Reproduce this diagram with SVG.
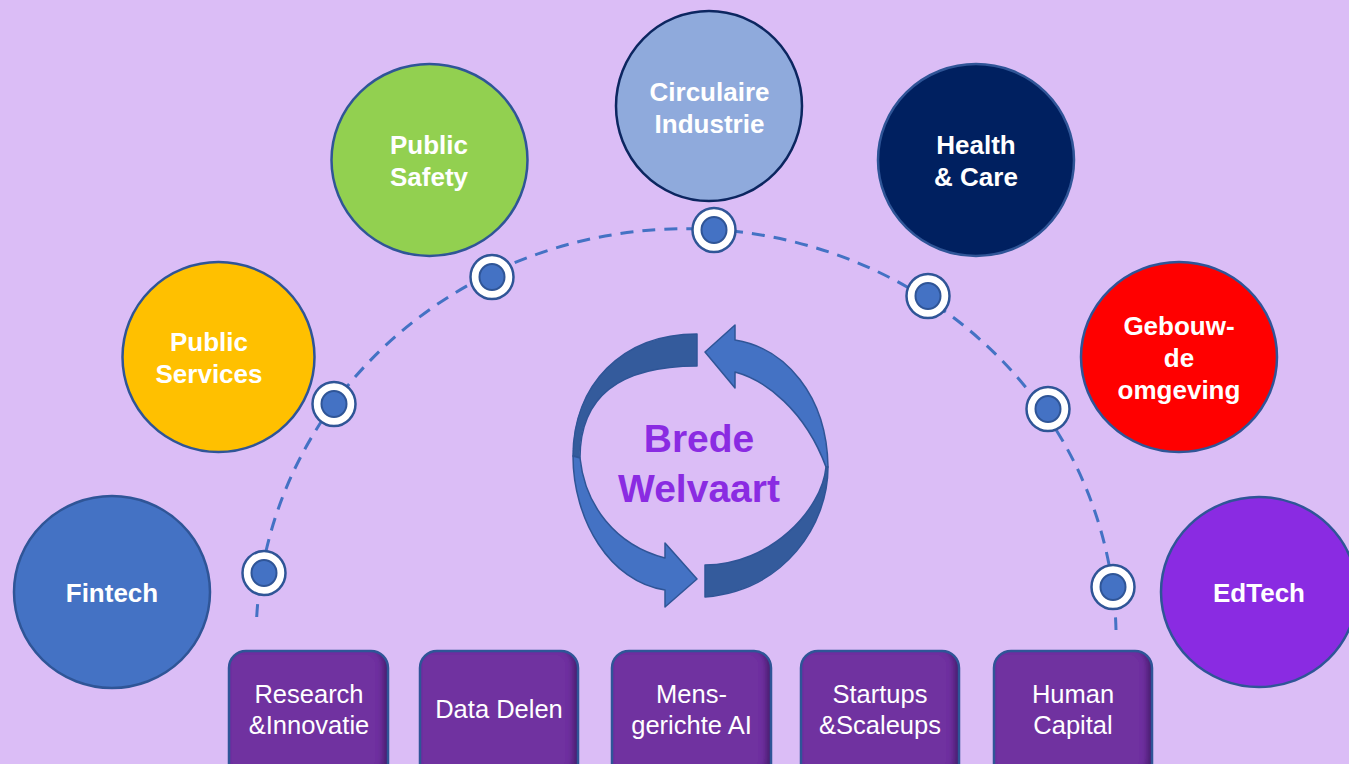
<svg xmlns="http://www.w3.org/2000/svg" width="1349" height="764" viewBox="0 0 1349 764">
<defs>
<style>
.lbl{font-family:"Liberation Sans",Arial,sans-serif;font-weight:bold;font-size:26px;fill:#ffffff;text-anchor:middle}
.box-t{font-family:"Liberation Sans",Arial,sans-serif;font-size:25.5px;fill:#ffffff;text-anchor:middle}
.center-t{font-family:"Liberation Sans",Arial,sans-serif;font-weight:bold;font-size:39px;fill:#8a2be2;text-anchor:middle}
.node{stroke:#2f5597;stroke-width:2.5}
.box-fill{fill:#7030a0}
.box-line{fill:none;stroke:#2f5597;stroke-width:2.5}
.ring{fill:#ffffff;stroke:#2f5597;stroke-width:2.5}
.dot{fill:#4472c4;stroke:#2f5597;stroke-width:2}
.arc{fill:none;stroke:#4472c4;stroke-width:3;stroke-dasharray:13 9}
.arr-l{fill:#4472c4;stroke:#2f5597;stroke-width:1.5;stroke-linejoin:round}
.arr-d{fill:#345b9c;stroke:#2f5597;stroke-width:1.5;stroke-linejoin:round}
</style>
<filter id="inner" x="-10%" y="-10%" width="120%" height="120%">
<feFlood flood-color="#2e0c52" flood-opacity="0.75" result="c"/>
<feComposite in="c" in2="SourceAlpha" operator="out" result="inv"/>
<feOffset in="inv" dx="-5" dy="-4" result="off"/>
<feGaussianBlur in="off" stdDeviation="3" result="blur"/>
<feComposite in="blur" in2="SourceAlpha" operator="in" result="shadow"/>
<feMerge><feMergeNode in="SourceGraphic"/><feMergeNode in="shadow"/></feMerge>
</filter>
</defs>
<rect x="0" y="0" width="1349" height="764" fill="#dbbdf6"/>

<g id="connectors">
<path class="arc" d="M 256.7 617 A 430 410 0 0 1 1116 630"/>
</g>

<g id="cycle">
<path class="arr-d" d="M 697 334 C 622 334 573 385 573 456 L 580 458 C 580 395 622 366 697 366 Z"/>
<path class="arr-l" d="M 573 456 C 573 520 610 582 665 590 L 665 607 L 697 579 L 665 543 L 665 558 C 615 545 585 505 580 458 Z"/>
<path class="arr-l" d="M 705 352 L 735 325 L 735 340 C 785 348 827 395 828 467 L 826 467 C 805 410 765 380 735 372 L 735 388 Z"/>
<path class="arr-d" d="M 828 467 C 828 525 785 590 705 597 L 705 565 C 770 565 822 510 826 467 Z"/>
<text class="center-t" x="699" y="452">Brede</text>
<text class="center-t" x="699" y="502">Welvaart</text>
</g>

<g id="node-fintech">
<ellipse class="node" cx="112" cy="592" rx="98" ry="96" fill="#4472c4"/>
<text class="lbl" x="112" y="602">Fintech</text>
</g>
<g id="node-public-services">
<ellipse class="node" cx="218.5" cy="357" rx="96" ry="95" fill="#ffc000"/>
<text class="lbl" x="209" y="351">Public</text>
<text class="lbl" x="209" y="383">Services</text>
</g>
<g id="node-public-safety">
<ellipse class="node" cx="429.5" cy="160" rx="98" ry="96" fill="#92d050"/>
<text class="lbl" x="429" y="154">Public</text>
<text class="lbl" x="429" y="186">Safety</text>
</g>
<g id="node-circulaire">
<ellipse cx="709" cy="106" rx="93" ry="95" fill="#8faadc" stroke="#0c2660" stroke-width="2.5"/>
<text class="lbl" x="709.5" y="101">Circulaire</text>
<text class="lbl" x="709.5" y="133">Industrie</text>
</g>
<g id="node-health">
<ellipse class="node" cx="976" cy="160" rx="98" ry="96" fill="#002060"/>
<text class="lbl" x="976" y="154">Health</text>
<text class="lbl" x="976" y="186">&amp; Care</text>
</g>
<g id="node-gebouwde">
<ellipse class="node" cx="1179" cy="357" rx="98" ry="95" fill="#ff0000"/>
<text class="lbl" x="1179" y="335">Gebouw-</text>
<text class="lbl" x="1179" y="367">de</text>
<text class="lbl" x="1179" y="399">omgeving</text>
</g>
<g id="node-edtech">
<ellipse class="node" cx="1259" cy="592" rx="98" ry="95" fill="#8a2be2"/>
<text class="lbl" x="1259" y="602">EdTech</text>
</g>

<g id="dots">
<g><ellipse class="ring" cx="264" cy="573" rx="21.5" ry="22"/><ellipse class="dot" cx="264" cy="573" rx="12.5" ry="13"/></g>
<g><ellipse class="ring" cx="334" cy="404" rx="21.5" ry="22"/><ellipse class="dot" cx="334" cy="404" rx="12.5" ry="13"/></g>
<g><ellipse class="ring" cx="492" cy="277" rx="21.5" ry="22"/><ellipse class="dot" cx="492" cy="277" rx="12.5" ry="13"/></g>
<g><ellipse class="ring" cx="714" cy="230" rx="21.5" ry="22"/><ellipse class="dot" cx="714" cy="230" rx="12.5" ry="13"/></g>
<g><ellipse class="ring" cx="928" cy="296" rx="21.5" ry="22"/><ellipse class="dot" cx="928" cy="296" rx="12.5" ry="13"/></g>
<g><ellipse class="ring" cx="1048" cy="409" rx="21.5" ry="22"/><ellipse class="dot" cx="1048" cy="409" rx="12.5" ry="13"/></g>
<g><ellipse class="ring" cx="1113" cy="587" rx="21.5" ry="22"/><ellipse class="dot" cx="1113" cy="587" rx="12.5" ry="13"/></g>
</g>

<g id="box-research">
<rect class="box-fill" filter="url(#inner)" x="229" y="651" width="159" height="130" rx="17"/>
<rect class="box-line" x="229" y="651" width="159" height="130" rx="17"/>
<text class="box-t" x="309" y="703">Research</text>
<text class="box-t" x="309" y="734">&amp;Innovatie</text>
</g>
<g id="box-data">
<rect class="box-fill" filter="url(#inner)" x="420" y="651" width="158" height="130" rx="17"/>
<rect class="box-line" x="420" y="651" width="158" height="130" rx="17"/>
<text class="box-t" x="499" y="718">Data Delen</text>
</g>
<g id="box-ai">
<rect class="box-fill" filter="url(#inner)" x="612" y="651" width="159" height="130" rx="17"/>
<rect class="box-line" x="612" y="651" width="159" height="130" rx="17"/>
<text class="box-t" x="691.5" y="703">Mens-</text>
<text class="box-t" x="691.5" y="734">gerichte AI</text>
</g>
<g id="box-startups">
<rect class="box-fill" filter="url(#inner)" x="801" y="651" width="158" height="130" rx="17"/>
<rect class="box-line" x="801" y="651" width="158" height="130" rx="17"/>
<text class="box-t" x="880" y="703">Startups</text>
<text class="box-t" x="880" y="734">&amp;Scaleups</text>
</g>
<g id="box-human">
<rect class="box-fill" filter="url(#inner)" x="994" y="651" width="158" height="130" rx="17"/>
<rect class="box-line" x="994" y="651" width="158" height="130" rx="17"/>
<text class="box-t" x="1073" y="703">Human</text>
<text class="box-t" x="1073" y="734">Capital</text>
</g>
</svg>
